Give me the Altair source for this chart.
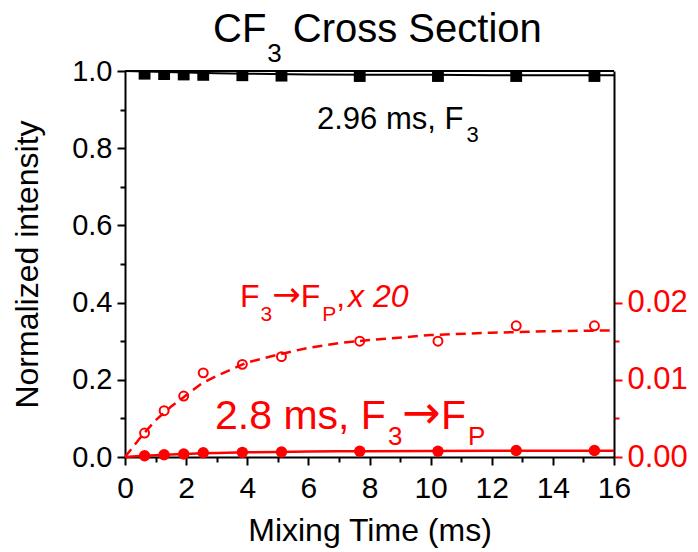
import altair as alt
import pandas as pd

# ---------------- data ----------------
mix_time = [0.64, 1.28, 1.92, 2.56, 3.84, 5.12, 7.68, 10.24, 12.8, 15.36]
f3_intensity = [0.993, 0.992, 0.991, 0.990, 0.989, 0.988, 0.987, 0.987, 0.987, 0.987]
f3_fit_time = [0, 1, 2, 3, 4, 6, 8, 10, 12, 14, 16]
f3_fit_value = [1.0, 0.998, 0.996, 0.994, 0.993, 0.991, 0.990, 0.990, 0.989, 0.989, 0.989]
fp_intensity = [0.0031, 0.0060, 0.0079, 0.0109, 0.0120, 0.0130, 0.0150, 0.0150, 0.0170, 0.0170]
fp_fit_time = [0, 0.5, 1, 1.5, 2, 2.5, 3, 4, 5, 6, 7, 8, 10, 12, 14, 16]
fp_fit_value = [0, 0.0025, 0.00475, 0.0065, 0.008, 0.0095, 0.0105, 0.01225, 0.01325,
                0.01415, 0.01475, 0.01515, 0.0158, 0.0161, 0.0163, 0.0164]

x_ticks = list(range(0, 17))
y_ticks = [round(0.1 * i, 1) for i in range(11)]
y2_ticks = [0, 0.005, 0.01, 0.015, 0.02]

title_parts = ["CF", "3", "Cross Section"]
f3_label = ["2.96 ms, F", "3"]
fp_scaled_label = ["F", "3", "\u2192", "F", "P", ",", "x 20"]
fp_label = ["2.8 ms, F", "3", "\u2192", "F", "P"]

RED = "#ff0000"
FONT = "Liberation Sans"
ARROW_FONT = "DejaVu Sans"
W, H = 489, 386

# Arial advance widths (per 1000 em) for laying out subscript pieces
ADV = {str(d): 556 for d in range(10)}
ADV.update({".": 278, " ": 278, ",": 278, "m": 833, "s": 500, "F": 611, "P": 667,
            "C": 722, "r": 333, "o": 556, "S": 667, "e": 556, "c": 500, "t": 278,
            "i": 222, "n": 556, "x": 500, "\u2192": 838})


def width(txt, size):
    return sum(ADV.get(ch, 556) for ch in txt) * size / 1000.0


xs = alt.Scale(domain=[0, 16], nice=False, zero=False)
ys = alt.Scale(domain=[0, 1], nice=False)
ys2 = alt.Scale(domain=[0, 0.05], nice=False)

x_axis = alt.Axis(
    values=x_ticks,
    labelExpr="datum.value % 2 == 0 ? datum.label : ''",
    tickSize={"condition": {"test": "datum.value % 2 == 0", "value": 8}, "value": 5},
    tickWidth=2, tickColor="black", domain=True, domainColor="black", domainWidth=2,
    grid=False,
    labelFontSize=30, labelColor="black", labelPadding=8, labelOverlap=False,
    labelFlush=False, labelFont=FONT,
    title="Mixing Time (ms)", titleFontSize=32, titleFontWeight="normal",
    titleColor="black", titleFont=FONT, titleBaseline="alphabetic", titleY=83,
)
y_axis = alt.Axis(
    values=y_ticks,
    labelExpr="round(datum.value * 10) % 2 == 0 ? format(datum.value, '.1f') : ''",
    tickSize={"condition": {"test": "round(datum.value * 10) % 2 == 0", "value": 8}, "value": 5},
    tickWidth=2, tickColor="black", domain=True, domainColor="black", domainWidth=2,
    grid=False,
    labelFontSize=29, labelColor="black", labelPadding=5, labelOverlap=False,
    labelFont=FONT,
    title="Normalized intensity", titleFontSize=32, titleFontWeight="normal",
    titleColor="black", titleFont=FONT, titleBaseline="alphabetic",
    titleX=-88, titleY=H / 2, titleAngle=270,
)
y2_axis = alt.Axis(
    orient="right",
    values=y2_ticks,
    labelExpr="round(datum.value * 1000) % 10 == 0 ? format(datum.value, '.2f') : ''",
    tickSize={"condition": {"test": "round(datum.value * 1000) % 10 == 0", "value": 8}, "value": 5},
    tickWidth=2, tickColor=RED, domain=True, domainColor="black", domainWidth=2,
    grid=False,
    labelFontSize=31, labelColor=RED, labelPadding=5, labelOverlap=False,
    labelFont=FONT, title=None,
)

X = lambda: alt.X("t:Q", scale=xs, axis=x_axis)
Y = lambda: alt.Y("v:Q", scale=ys, axis=y_axis)

df_pts = pd.DataFrame({"t": mix_time, "v": f3_intensity, "p": fp_intensity})
df_f3fit = pd.DataFrame({"t": f3_fit_time, "v": f3_fit_value})
df_fpfit = pd.DataFrame({"t": fp_fit_time, "v": fp_fit_value})

# top frame line of the plot box
frame_top = alt.Chart(pd.DataFrame({"k": [0]})).mark_rule(color="black", strokeWidth=2).encode(
    y=alt.value(0))

f3_line = alt.Chart(df_f3fit).mark_line(color="black", strokeWidth=2).encode(x=X(), y=Y())
f3_pts = alt.Chart(df_pts).mark_square(color="black", size=140, opacity=1, clip=True).encode(x=X(), y=Y())
fp_line = alt.Chart(df_fpfit).mark_line(color=RED, strokeWidth=2.5).encode(x=X(), y=Y())
fp_pts = alt.Chart(df_pts).mark_circle(color=RED, size=130, opacity=1).encode(
    x=X(), y=alt.Y("p:Q", scale=ys, axis=y_axis))


def text_group(anchor_t, anchor_v, pieces, color):
    """pieces: list of (text, size, dy, extra_gap, italic)"""
    layers = []
    dx = 0.0
    df = pd.DataFrame({"t": [anchor_t], "v": [anchor_v]})
    for txt, size, dy, gap, italic in pieces:
        dx += gap
        layers.append(
            alt.Chart(df).mark_text(
                text=txt, align="left", baseline="alphabetic", fontSize=size,
                dx=dx, dy=dy, color=color,
                font=ARROW_FONT if txt == "\u2192" else FONT,
                fontStyle="italic" if italic else "normal",
            ).encode(x=X(), y=Y())
        )
        dx += width(txt, size)
    return layers


texts = []
texts += text_group(2.88, 1.076, [
    (title_parts[0], 40, 0, 0, False),
    (title_parts[1], 26, 20, 1, False),
    (title_parts[2], 40, 0, 11, False),
], "black")
texts += text_group(6.28, 0.849, [
    (f3_label[0], 31, 0, 0, False),
    (f3_label[1], 22, 13, 3, False),
], "black")
texts += text_group(3.76, 0.388, [
    (fp_scaled_label[0], 32, 0, 0, False),
    (fp_scaled_label[1], 21, 14, 1, False),
    (fp_scaled_label[2], 34, -1, 0, False),
    (fp_scaled_label[3], 32, 0, 0, False),
    (fp_scaled_label[4], 21, 14, 2, False),
    (fp_scaled_label[5], 32, 0, 0, False),
    (fp_scaled_label[6], 32, 0, 3, True),
], RED)
texts += text_group(2.945, 0.0718, [
    (fp_label[0], 41, 0, 0, False),
    (fp_label[1], 26, 16, 2, False),
    (fp_label[2], 46, -1, 0, False),
    (fp_label[3], 41, 0, 0, False),
    (fp_label[4], 26, 16, 2, False),
], RED)

left = alt.layer(frame_top, f3_line, f3_pts, fp_line, fp_pts, *texts)

Y2 = lambda: alt.Y("v:Q", scale=ys2, axis=y2_axis)
df_open = pd.DataFrame({"t": mix_time, "v": fp_intensity})
fp_dash = alt.Chart(df_fpfit).mark_line(color=RED, strokeWidth=2.5, strokeDash=[10, 6]).encode(x=X(), y=Y2())
fp_open = alt.Chart(df_open).mark_point(shape="circle", filled=False, color=RED, strokeWidth=2,
                                         size=80, opacity=1).encode(x=X(), y=Y2())
right = alt.layer(fp_dash, fp_open)

chart = alt.layer(left, right).resolve_scale(y="independent").properties(
    width=W, height=H,
    autosize=alt.AutoSizeParams(type="none"),
    padding={"left": 125, "top": 71, "right": 84, "bottom": 95},
).configure_view(stroke=None).configure(background="white")

chart.save("out.html", embed_options={"renderer": "svg", "actions": False})
